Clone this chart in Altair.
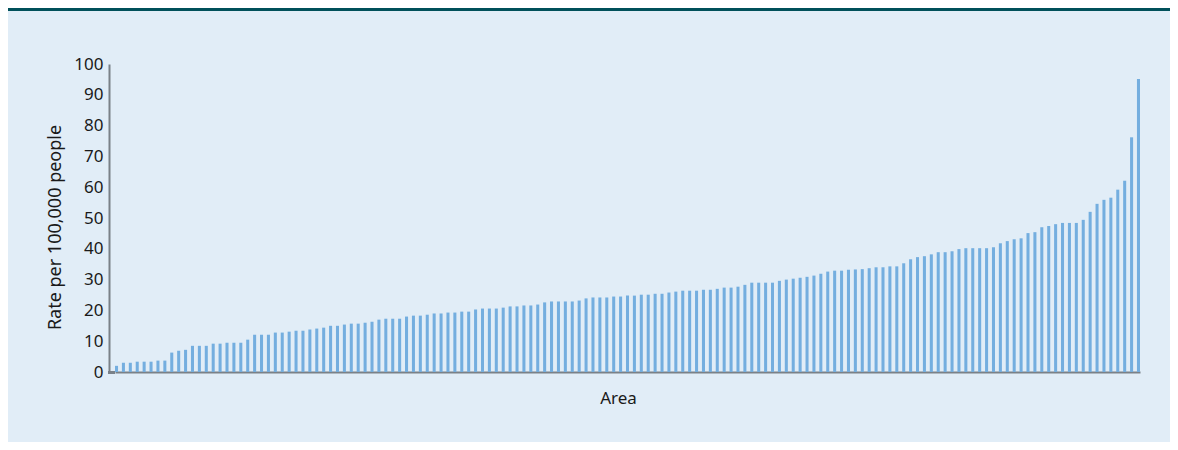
import altair as alt
import pandas as pd

# Values (rate per 100,000 people, sorted ascending)
rates = [
    2.0, 3.0, 3.0, 3.35, 3.35, 3.35, 3.7, 3.7, 6.3, 6.9,
    7.2, 8.5, 8.5, 8.5, 9.2, 9.2, 9.5, 9.5, 9.5, 10.5,
    12.1, 12.1, 12.1, 12.8, 12.8, 13.1, 13.4, 13.4, 13.8, 14.1,
    14.4, 15.0, 15.0, 15.4, 15.7, 15.7, 16.0, 16.3, 17.0, 17.3,
    17.3, 17.3, 18.0, 18.3, 18.3, 18.6, 19.0, 19.0, 19.3, 19.3,
    19.6, 19.6, 20.3, 20.6, 20.6, 20.6, 20.9, 21.3, 21.3, 21.6,
    21.6, 21.9, 22.6, 22.9, 22.9, 22.9, 22.9, 23.2, 23.9, 24.2,
    24.2, 24.2, 24.5, 24.5, 24.8, 24.8, 25.1, 25.1, 25.4, 25.4,
    25.8, 26.1, 26.4, 26.4, 26.4, 26.7, 26.7, 27.0, 27.4, 27.4,
    27.7, 28.3, 29.0, 29.0, 29.0, 29.0, 29.6, 30.0, 30.3, 30.6,
    30.9, 31.3, 31.9, 32.6, 32.9, 32.9, 33.2, 33.3, 33.4, 33.7,
    34.0, 34.0, 34.3, 34.3, 35.3, 36.6, 37.3, 37.6, 38.2, 38.9,
    38.9, 39.2, 39.9, 40.2, 40.2, 40.2, 40.2, 40.5, 41.8, 42.5,
    43.1, 43.4, 45.1, 45.4, 47.0, 47.4, 48.0, 48.4, 48.4, 48.4,
    49.4, 52.0, 54.6, 55.9, 56.6, 59.2, 62.1, 76.2, 95.1,
]
areas = [f"Area {i + 1}" for i in range(len(rates))]
y_ticks = [0, 10, 20, 30, 40, 50, 60, 70, 80, 90, 100]

df = pd.DataFrame({"area": areas, "rate": rates})

FONT = "Noto Sans"
AXIS_COLOR = "#7A8188"
W, H = 1025, 308
PAD_L, PAD_T, PAD_R, PAD_B = 107, 56, 30, 70

bars = alt.Chart(df).mark_bar(color="#74AEDF").encode(
    x=alt.X(
        "area:N",
        sort=None,
        scale=alt.Scale(paddingInner=0.56, paddingOuter=0),
        axis=alt.Axis(
            title="Area", labels=False, ticks=False, domainColor=AXIS_COLOR,
            domainWidth=2, titleFont=FONT, titleFontSize=17,
            titleFontWeight="normal", titleColor="#1a1a1a",
            titleX=503, titleY=31, titleBaseline="alphabetic",
        ),
    ),
    y=alt.Y(
        "rate:Q",
        scale=alt.Scale(domain=[0, 100], nice=False),
        axis=alt.Axis(
            title="Rate per 100,000 people", values=y_ticks, ticks=False,
            grid=False, offset=6, domainColor=AXIS_COLOR, domainWidth=2,
            labelFont=FONT, labelFontSize=17, labelColor="#1a1a1a",
            labelPadding=6, titleFont=FONT, titleFontSize=18,
            titleFontWeight="normal", titleColor="#1a1a1a", titlePadding=9,
            titleY=163,
        ),
    ),
)

# extend the x-axis line to the offset y-axis
axis_ext = alt.Chart(df).mark_rule(color=AXIS_COLOR, strokeWidth=2).encode(
    x=alt.value(-7), x2=alt.value(0), y=alt.value(H + 0.5)
)

# dark header band
band = alt.Chart(df).mark_rect(color="#00505A").encode(
    x=alt.value(-PAD_L), x2=alt.value(W + PAD_R),
    y=alt.value(-PAD_T), y2=alt.value(-PAD_T + 3)
)

chart = alt.layer(bars, axis_ext, band).properties(
    width=W,
    height=H,
    background="#E1EDF7",
    padding={"left": PAD_L, "top": PAD_T, "right": PAD_R, "bottom": PAD_B},
    autosize=alt.AutoSizeParams(type="none"),
).configure_view(stroke=None)

chart.save("out.html", embed_options={"renderer": "svg", "actions": False})
